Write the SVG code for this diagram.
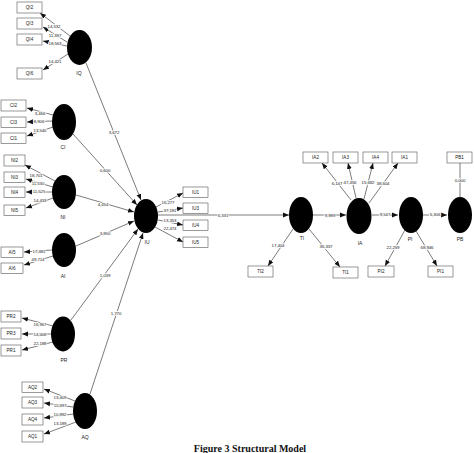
<svg xmlns="http://www.w3.org/2000/svg" width="474" height="453" viewBox="0 0 474 453">
<style>
.bg{fill:#fff}
.lv{fill:#000}
.box{fill:#fff;stroke:#555;stroke-width:0.6}
.bt{font-family:"Liberation Sans",Arial,sans-serif;font-size:4.6px;fill:#222;text-anchor:middle;dominant-baseline:central}
.lt{font-family:"Liberation Sans",Arial,sans-serif;font-size:5px;fill:#222;text-anchor:middle;dominant-baseline:central}
.num{font-family:"Liberation Sans",Arial,sans-serif;font-size:4.4px;fill:#222;text-anchor:middle;dominant-baseline:central;stroke:#fff;stroke-width:1.6px;paint-order:stroke;letter-spacing:-0.1px}
.c{stroke:#222;stroke-width:0.6;fill:none;marker-end:url(#ah)}
.cn{stroke:#222;stroke-width:0.6;fill:none}
.cap{font-family:"Liberation Serif","Times New Roman",serif;font-size:10px;font-weight:bold;fill:#111;text-anchor:middle}
</style>
<defs>
<marker id="ah" viewBox="0 0 10 10" refX="10" refY="5" markerWidth="6" markerHeight="6" markerUnits="userSpaceOnUse" orient="auto">
<path d="M0,1 L10,5 L0,9 z" fill="#111"/>
</marker>
</defs>
<rect class="bg" x="0" y="0" width="474" height="453"/>

<g id="connectors">
<!-- structural paths into IU -->
<line class="c" x1="86" y1="63" x2="141" y2="200"/>
<line class="c" x1="73" y1="134" x2="137" y2="205"/>
<line class="c" x1="76" y1="195" x2="134" y2="212"/>
<line class="c" x1="76" y1="246" x2="134" y2="221"/>
<line class="c" x1="71" y1="320" x2="138" y2="229"/>
<line class="c" x1="90" y1="394" x2="143" y2="233"/>
<!-- chain -->
<line class="c" x1="158" y1="215" x2="289" y2="215"/>
<line class="c" x1="313" y1="215" x2="346" y2="215"/>
<line class="c" x1="372" y1="215" x2="398" y2="215"/>
<line class="c" x1="423" y1="215" x2="447" y2="215"/>
<!-- IQ indicators -->
<line class="c" x1="70" y1="36" x2="40" y2="13"/>
<line class="c" x1="67" y1="42" x2="43" y2="27"/>
<line class="c" x1="67" y1="46" x2="43" y2="41"/>
<line class="c" x1="68" y1="54" x2="43" y2="70"/>
<!-- CI indicators -->
<line class="c" x1="53" y1="115" x2="27" y2="108"/>
<line class="c" x1="52" y1="121" x2="27" y2="122"/>
<line class="c" x1="53" y1="127" x2="27" y2="136"/>
<!-- NI indicators -->
<line class="c" x1="55" y1="181" x2="25" y2="165"/>
<line class="c" x1="53" y1="187" x2="26" y2="179"/>
<line class="c" x1="52" y1="192" x2="26" y2="192"/>
<line class="c" x1="53" y1="198" x2="26" y2="208"/>
<!-- AI indicators -->
<line class="c" x1="52" y1="250" x2="24" y2="252"/>
<line class="c" x1="53" y1="256" x2="24" y2="265"/>
<!-- PR indicators -->
<line class="c" x1="53" y1="326" x2="22" y2="318"/>
<line class="c" x1="51" y1="334" x2="22" y2="334"/>
<line class="c" x1="53" y1="342" x2="22" y2="350"/>
<!-- AQ indicators -->
<line class="c" x1="75" y1="401" x2="44" y2="389"/>
<line class="c" x1="73" y1="407" x2="44" y2="403"/>
<line class="c" x1="73" y1="414" x2="44" y2="418"/>
<line class="c" x1="76" y1="422" x2="44" y2="434"/>
<!-- IU indicators -->
<line class="c" x1="156" y1="207" x2="183" y2="193"/>
<line class="c" x1="158" y1="212" x2="183" y2="208"/>
<line class="c" x1="158" y1="220" x2="183" y2="225"/>
<line class="c" x1="155" y1="227" x2="183" y2="242"/>
<!-- TI indicators -->
<line class="c" x1="293" y1="229" x2="268" y2="266"/>
<line class="c" x1="309" y1="229" x2="340" y2="267"/>
<!-- IA indicators -->
<line class="c" x1="351" y1="200" x2="322" y2="163"/>
<line class="c" x1="356" y1="198" x2="348" y2="163"/>
<line class="c" x1="364" y1="199" x2="373" y2="163"/>
<line class="c" x1="369" y1="203" x2="398" y2="163"/>
<!-- PI indicators -->
<line class="c" x1="405" y1="230" x2="385" y2="266"/>
<line class="c" x1="416" y1="231" x2="437" y2="266"/>
<!-- PB -->
<line class="cn" x1="460" y1="163" x2="460" y2="197"/>

<!-- path coefficients -->
<text class="num" x="114" y="132">3,672</text>
<text class="num" x="105" y="170">0,600</text>
<text class="num" x="103" y="204">4,454</text>
<text class="num" x="105" y="233">3,850</text>
<text class="num" x="105" y="275">1,039</text>
<text class="num" x="116" y="313">1,770</text>
<text class="num" x="223" y="215">6,331</text>
<text class="num" x="330" y="215">9,989</text>
<text class="num" x="385" y="214">9,547</text>
<text class="num" x="435" y="214">5,306</text>
<text class="num" x="460" y="180">0,000</text>
<!-- loadings -->
<text class="num" x="54" y="26">14,532</text>
<text class="num" x="55" y="35">11,397</text>
<text class="num" x="55" y="43">18,563</text>
<text class="num" x="55" y="61">14,421</text>
<text class="num" x="40" y="113">3,466</text>
<text class="num" x="39" y="121">8,906</text>
<text class="num" x="40" y="130">13,540</text>
<text class="num" x="36" y="175">18,701</text>
<text class="num" x="38" y="183">11,530</text>
<text class="num" x="39" y="191">11,525</text>
<text class="num" x="40" y="200">14,433</text>
<text class="num" x="39" y="251">17,481</text>
<text class="num" x="38" y="259">49,714</text>
<text class="num" x="40" y="324">16,967</text>
<text class="num" x="40" y="334">14,408</text>
<text class="num" x="40" y="343">22,188</text>
<text class="num" x="60" y="397">13,409</text>
<text class="num" x="60" y="405">11,497</text>
<text class="num" x="60" y="414">10,892</text>
<text class="num" x="60" y="423">13,189</text>
<text class="num" x="168" y="202">16,277</text>
<text class="num" x="170" y="210">37,181</text>
<text class="num" x="170" y="220">13,353</text>
<text class="num" x="170" y="228">22,474</text>
<text class="num" x="278" y="245">17,404</text>
<text class="num" x="326" y="246">36,337</text>
<text class="num" x="337" y="183">6,147</text>
<text class="num" x="350" y="182">47,456</text>
<text class="num" x="368" y="182">15,682</text>
<text class="num" x="383" y="183">38,604</text>
<text class="num" x="393" y="247">22,259</text>
<text class="num" x="427" y="247">68,946</text>
</g>

<!-- latent variables -->
<g id="IQ"><ellipse class="lv" cx="79.5" cy="47.5" rx="12.5" ry="17.5"/><text class="lt" x="79" y="73">IQ</text></g>
<g id="CI"><ellipse class="lv" cx="64" cy="122" rx="12" ry="18"/><text class="lt" x="63" y="147">CI</text></g>
<g id="NI"><ellipse class="lv" cx="64" cy="192" rx="12" ry="17"/><text class="lt" x="63" y="217">NI</text></g>
<g id="AI"><ellipse class="lv" cx="64" cy="250" rx="12" ry="17"/><text class="lt" x="63" y="276">AI</text></g>
<g id="PR"><ellipse class="lv" cx="63" cy="334" rx="12" ry="17.5"/><text class="lt" x="64" y="360">PR</text></g>
<g id="AQ"><ellipse class="lv" cx="85" cy="411" rx="12" ry="18"/><text class="lt" x="85" y="437">AQ</text></g>
<g id="IU"><ellipse class="lv" cx="146" cy="216" rx="12" ry="17"/><text class="lt" x="147" y="242">IU</text></g>
<g id="TI"><ellipse class="lv" cx="301" cy="215" rx="12" ry="18"/><text class="lt" x="302" y="238">TI</text></g>
<g id="IA"><ellipse class="lv" cx="359" cy="216" rx="12.5" ry="18"/><text class="lt" x="360" y="243">IA</text></g>
<g id="PI"><ellipse class="lv" cx="411" cy="215" rx="12" ry="18"/><text class="lt" x="410" y="239">PI</text></g>
<g id="PB"><ellipse class="lv" cx="460" cy="215" rx="12" ry="18"/><text class="lt" x="460" y="239">PB</text></g>

<!-- indicators -->
<g id="QI2"><rect class="box" x="17" y="2" width="25" height="11"/><text class="bt" x="29.5" y="7.5">QI2</text></g>
<g id="QI3"><rect class="box" x="17" y="18" width="25" height="11"/><text class="bt" x="29.5" y="23.5">QI3</text></g>
<g id="QI4"><rect class="box" x="17" y="34" width="25" height="11"/><text class="bt" x="29.5" y="39.5">QI4</text></g>
<g id="QI6"><rect class="box" x="17" y="68" width="25" height="11"/><text class="bt" x="29.5" y="73.5">QI6</text></g>

<g id="CI2"><rect class="box" x="1" y="100" width="25" height="11"/><text class="bt" x="13.5" y="105.5">CI2</text></g>
<g id="CI3"><rect class="box" x="1" y="117" width="25" height="10.5"/><text class="bt" x="13.5" y="122">CI3</text></g>
<g id="CI1"><rect class="box" x="1" y="133" width="25" height="10.5"/><text class="bt" x="13.5" y="138">CI1</text></g>

<g id="NI2"><rect class="box" x="4" y="155" width="21" height="11"/><text class="bt" x="14.5" y="160.5">NI2</text></g>
<g id="NI3"><rect class="box" x="4" y="172" width="21" height="10.5"/><text class="bt" x="14.5" y="177">NI3</text></g>
<g id="NI4"><rect class="box" x="4" y="187" width="21" height="10.5"/><text class="bt" x="14.5" y="192">NI4</text></g>
<g id="NI5"><rect class="box" x="4" y="205" width="21" height="10.5"/><text class="bt" x="14.5" y="210">NI5</text></g>

<g id="AI5"><rect class="box" x="1" y="247" width="22" height="10.5"/><text class="bt" x="12" y="252">AI5</text></g>
<g id="AI6"><rect class="box" x="1" y="263" width="22" height="10.5"/><text class="bt" x="12" y="268">AI6</text></g>

<g id="PR2"><rect class="box" x="1" y="311" width="20" height="11"/><text class="bt" x="11" y="316.5">PR2</text></g>
<g id="PR3"><rect class="box" x="1" y="328" width="20" height="11"/><text class="bt" x="11" y="333.5">PR3</text></g>
<g id="PR1"><rect class="box" x="1" y="345" width="20" height="11"/><text class="bt" x="11" y="350.5">PR1</text></g>

<g id="AQ2"><rect class="box" x="22" y="382" width="21" height="10.5"/><text class="bt" x="32.5" y="387">AQ2</text></g>
<g id="AQ3"><rect class="box" x="22" y="397" width="21" height="11"/><text class="bt" x="32.5" y="402.5">AQ3</text></g>
<g id="AQ4"><rect class="box" x="22" y="414" width="21" height="11"/><text class="bt" x="32.5" y="419.5">AQ4</text></g>
<g id="AQ1"><rect class="box" x="22" y="431" width="21" height="11"/><text class="bt" x="32.5" y="436.5">AQ1</text></g>

<g id="IU1"><rect class="box" x="183" y="187" width="25" height="10.5"/><text class="bt" x="195.5" y="192">IU1</text></g>
<g id="IU3"><rect class="box" x="183" y="203" width="25" height="10.5"/><text class="bt" x="195.5" y="208">IU3</text></g>
<g id="IU4"><rect class="box" x="183" y="220" width="25" height="10.5"/><text class="bt" x="195.5" y="225">IU4</text></g>
<g id="IU5"><rect class="box" x="183" y="237" width="25" height="10.5"/><text class="bt" x="195.5" y="242">IU5</text></g>

<g id="IA2"><rect class="box" x="303" y="152" width="25" height="11"/><text class="bt" x="315.5" y="157.5">IA2</text></g>
<g id="IA3"><rect class="box" x="333" y="152" width="25" height="11"/><text class="bt" x="345.5" y="157.5">IA3</text></g>
<g id="IA4"><rect class="box" x="363" y="152" width="25" height="11"/><text class="bt" x="375.5" y="157.5">IA4</text></g>
<g id="IA1"><rect class="box" x="392" y="152" width="25" height="11"/><text class="bt" x="404.5" y="157.5">IA1</text></g>
<g id="PB1"><rect class="box" x="447" y="152" width="25" height="11"/><text class="bt" x="459.5" y="157.5">PB1</text></g>

<g id="TI2"><rect class="box" x="248" y="266" width="25" height="11"/><text class="bt" x="260.5" y="271.5">TI2</text></g>
<g id="TI1"><rect class="box" x="333" y="267" width="25" height="11"/><text class="bt" x="345.5" y="272.5">TI1</text></g>
<g id="PI2"><rect class="box" x="368" y="266" width="26" height="11"/><text class="bt" x="381" y="271.5">PI2</text></g>
<g id="PI1"><rect class="box" x="428" y="266" width="25" height="11"/><text class="bt" x="440.5" y="271.5">PI1</text></g>

<text class="cap" x="250" y="452">Figure 3 Structural Model</text>
</svg>
